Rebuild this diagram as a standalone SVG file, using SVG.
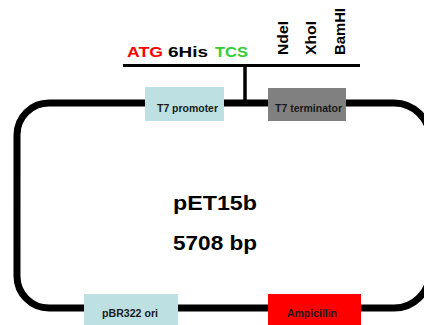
<svg xmlns="http://www.w3.org/2000/svg" width="424" height="325" viewBox="0 0 424 325">
<style>
.t{font-family:"Liberation Sans",Arial,sans-serif;font-weight:bold}
.lbl{font-size:11.5px;fill:#1a1a1a}
.big{font-size:15.5px;fill:#000}
.huge{font-size:21px;fill:#000}
.site{font-size:14px;fill:#000}
.blue{fill:#bde0e3}
</style>
<rect width="424" height="325" fill="#fff"/>
<g id="connectors">
<path d="M49 103 H394 A36 36 0 0 1 430 139 V272 A36 36 0 0 1 394 308 H49 A32 32 0 0 1 17 276 V135 A32 32 0 0 1 49 103 Z" fill="none" stroke="#000" stroke-width="7"/>
<line x1="123" y1="65.5" x2="360" y2="65.5" stroke="#000" stroke-width="3"/>
<line x1="245" y1="65" x2="245" y2="103" stroke="#000" stroke-width="3.5"/>
</g>
<g id="tag">
<text class="t big" x="127" y="57" style="fill:#ff0000" textLength="36" lengthAdjust="spacingAndGlyphs">ATG</text>
<text class="t big" x="168" y="57" textLength="40" lengthAdjust="spacingAndGlyphs">6His</text>
<text class="t big" x="215" y="57" style="fill:#33cc33" textLength="33" lengthAdjust="spacingAndGlyphs">TCS</text>
</g>
<g id="sites">
<text class="t site" transform="translate(288,55) rotate(-90)" textLength="34" lengthAdjust="spacingAndGlyphs">NdeI</text>
<text class="t site" transform="translate(316,55) rotate(-90)" textLength="34" lengthAdjust="spacingAndGlyphs">XhoI</text>
<text class="t site" transform="translate(345,55) rotate(-90)" textLength="47" lengthAdjust="spacingAndGlyphs">BamHI</text>
</g>
<g id="t7promoter">
<rect class="blue" x="145" y="87" width="79" height="34"/>
<text class="t lbl" x="157" y="112" textLength="61" lengthAdjust="spacingAndGlyphs">T7 promoter</text>
</g>
<g id="t7terminator">
<rect x="268" y="88" width="78" height="33" fill="#808080"/>
<text class="t lbl" x="275" y="112" textLength="67" lengthAdjust="spacingAndGlyphs">T7 terminator</text>
</g>
<g id="ori">
<rect class="blue" x="84" y="294" width="94" height="31"/>
<text class="t lbl" x="102" y="317" textLength="56" lengthAdjust="spacingAndGlyphs">pBR322 ori</text>
</g>
<g id="amp">
<rect x="268" y="294" width="93" height="31" fill="#ff0000"/>
<text class="t lbl" x="287" y="317" textLength="50" lengthAdjust="spacingAndGlyphs">Ampicillin</text>
</g>
<g id="plasmid">
<text class="t huge" x="173" y="210" textLength="84" lengthAdjust="spacingAndGlyphs">pET15b</text>
<text class="t huge" x="173" y="250" textLength="84" lengthAdjust="spacingAndGlyphs">5708 bp</text>
</g>
</svg>
